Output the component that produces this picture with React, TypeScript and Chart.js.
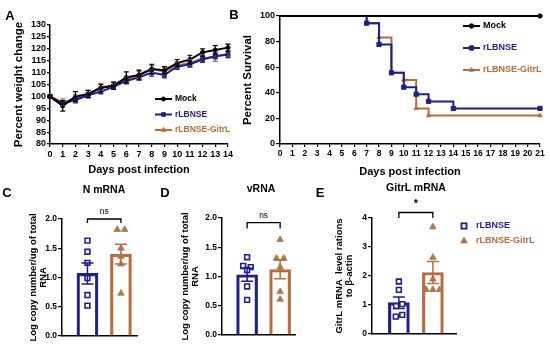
import React, { useEffect, useRef } from 'react';
import { Chart, registerables } from 'chart.js';

Chart.register(...registerables);

const W = 550;
const H = 358;
const FONT = "'Liberation Sans', Arial, Helvetica, sans-serif";
const BLACK = '#000000';
const NAVY = '#1f1f8a';
const BROWN = '#b86b3d';
const TRI_FILL = '#a67b4e';

// ---------- Panel A: weight change ----------
const seriesNames = ['Mock', 'rLBNSE', 'rLBNSE-GitrL'];
const weightDays = [0, 1, 2, 3, 4, 5, 6, 7, 8, 9, 10, 11, 12, 13, 14];
const mockWeight = [100, 96, 100, 101, 103.5, 104.5, 108, 109, 111.5, 111, 114, 115.5, 118.5, 119.5, 120.5];
const mockWeightSem = [0.5, 2.2, 2, 1.5, 1.5, 1.5, 2.3, 2, 2, 1.5, 1.5, 1.8, 1.5, 1.8, 1.5];
const rlbnseWeight = [100, 97, 98.5, 100.5, 102, 104, 106.5, 108, 110, 109, 112.5, 113.5, 115.5, 117, 117.5];
const rlbnseWeightSem = [0.5, 1.2, 1.2, 1, 1, 1, 1.2, 1.2, 1.5, 1.2, 1.2, 1.2, 1.2, 1.2, 1.2];
const gitrlWeight = [100, 97.5, 99, 101, 104, 104.5, 107, 109, 111.5, 110.5, 113, 114, 116, 116.5, 118];
const gitrlWeightSem = [0.5, 1.5, 1.5, 1.5, 1.5, 1.5, 1.5, 1.5, 1.5, 1.5, 1.5, 1.5, 1.5, 1.8, 1.5];

// ---------- Panel B: survival ----------
const mockSurvDays = [0, 21];
const mockSurv = [100, 100];
const rlbnseSurvDays = [0, 7, 8, 9, 10, 11, 12, 14, 21];
const rlbnseSurv = [100, 94.4, 77.8, 55.6, 44.4, 38.9, 33.3, 27.8, 27.8];
const gitrlSurvDays = [0, 7, 8, 9, 10, 11, 12, 21];
const gitrlSurv = [100, 94.4, 83.3, 55.6, 50, 27.8, 22.2, 22.2];

// ---------- Panels C, D, E ----------
const groupNames = ['rLBNSE', 'rLBNSE-GitrL'];

const nMean = [1.07, 1.4];
const nSem = [0.18, 0.17];
const nBlue = [1.63, 1.44, 1.25, 0.99, 0.7, 0.52];
const nBlueJitter = [0, 0, 0, 0, 0, 0];
const nOrange = [1.82, 1.82, 1.5, 1.36, 1.23, 0.73];
const nOrangeJitter = [-0.11, 0.11, 0, 0, 0, 0];

const vMean = [1.03, 1.12];
const vSem = [0.11, 0.16];
const vBlue = [1.33, 1.18, 1.16, 1.11, 0.83, 0.6];
const vBlueJitter = [0, -0.12, 0.11, 0, 0, 0];
const vOrange = [1.63, 1.31, 1.31, 1.16, 0.74, 0.61];
const vOrangeJitter = [0, -0.11, 0.11, 0, 0, 0];

const gMean = [1.08, 2.12];
const gSem = [0.2, 0.38];
const gBlue = [1.81, 1.52, 0.96, 1.03, 0.6, 0.66];
const gBlueJitter = [0, 0, -0.08, 0.1, -0.09, 0.1];
const gOrange = [3.69, 2.64, 1.89, 1.53, 1.53, 1.53];
const gOrangeJitter = [0, 0, 0, -0.2, 0, 0.2];

// ---------- helpers ----------
function drawMarker(ctx: CanvasRenderingContext2D, style: string, x: number, y: number, r: number, fill: string, stroke: string, lw: number) {
  ctx.beginPath();
  if (style === 'circle') {
    ctx.arc(x, y, r, 0, Math.PI * 2);
  } else if (style === 'rect') {
    const s = r * Math.SQRT1_2;
    ctx.rect(x - s, y - s, 2 * s, 2 * s);
  } else {
    const a = (2 * Math.PI) / 3;
    ctx.moveTo(x, y - r);
    ctx.lineTo(x + Math.sin(a) * r, y - Math.cos(a) * r);
    ctx.lineTo(x - Math.sin(a) * r, y - Math.cos(a) * r);
    ctx.closePath();
  }
  ctx.fillStyle = fill;
  ctx.fill();
  ctx.lineWidth = lw;
  ctx.strokeStyle = stroke;
  ctx.stroke();
}

type LegItem = { text: string; color: string; style: string; fill: string; radius: number; lw: number };
type LegLayout = { line: boolean; x0: number; x1: number; markerX: number; textX: number; ys: number[]; size: number };

function legendPlugin(id: string, items: LegItem[], lay: LegLayout) {
  return {
    id,
    afterDraw(chart: any) {
      const ctx = chart.ctx as CanvasRenderingContext2D;
      ctx.save();
      items.forEach((it, i) => {
        const y = lay.ys[i];
        if (lay.line) {
          ctx.beginPath();
          ctx.moveTo(lay.x0, y);
          ctx.lineTo(lay.x1, y);
          ctx.strokeStyle = it.color;
          ctx.lineWidth = 2;
          ctx.stroke();
        }
        drawMarker(ctx, it.style, lay.markerX, y, it.radius, it.fill, it.color, it.lw);
        ctx.fillStyle = it.color;
        ctx.font = `bold ${lay.size}px ${FONT}`;
        ctx.textBaseline = 'middle';
        ctx.textAlign = 'left';
        ctx.fillText(it.text, lay.textX, y);
      });
      ctx.restore();
    },
  };
}

const tickFont = (size: number) => ({ family: FONT, size, weight: 'bold' as const });

function ChartCanvas({ make }: { make: () => any }) {
  const ref = useRef<HTMLCanvasElement | null>(null);
  useEffect(() => {
    if (!ref.current) return;
    const chart = new Chart(ref.current, make());
    return () => chart.destroy();
  }, []);
  return (
    <canvas
      ref={ref}
      width={W}
      height={H}
      style={{ position: 'absolute', left: 0, top: 0, width: W, height: H }}
    />
  );
}

// ---------- Panel A config ----------
function makeWeight() {
  const sets = [
    { name: seriesNames[0], vals: mockWeight, sem: mockWeightSem, color: BLACK, style: 'circle', r: 2 },
    { name: seriesNames[1], vals: rlbnseWeight, sem: rlbnseWeightSem, color: NAVY, style: 'rect', r: 2.6 },
    { name: seriesNames[2], vals: gitrlWeight, sem: gitrlWeightSem, color: BROWN, style: 'triangle', r: 2.6 },
  ];
  const errPlugin = {
    id: 'weightErr',
    afterDatasetsDraw(chart: any) {
      const { ctx, scales } = chart;
      const x = scales.x, y = scales.y;
      ctx.save();
      for (let k = sets.length - 1; k >= 0; k--) {
        const s = sets[k];
        ctx.strokeStyle = s.color;
        ctx.lineWidth = 1.2;
        s.vals.forEach((v, i) => {
          const px = x.getPixelForValue(weightDays[i]);
          const t = y.getPixelForValue(v + s.sem[i]);
          const b = y.getPixelForValue(v - s.sem[i]);
          ctx.beginPath();
          ctx.moveTo(px, t); ctx.lineTo(px, b);
          ctx.moveTo(px - 2.5, t); ctx.lineTo(px + 2.5, t);
          ctx.moveTo(px - 2.5, b); ctx.lineTo(px + 2.5, b);
          ctx.stroke();
        });
      }
      ctx.restore();
    },
  };
  return {
    type: 'line',
    data: {
      datasets: sets.map((s) => ({
        label: s.name,
        data: s.vals.map((v, i) => ({ x: weightDays[i], y: v })),
        borderColor: s.color,
        backgroundColor: s.color,
        borderWidth: 2,
        pointStyle: s.style,
        pointRadius: s.r,
        pointBorderWidth: 1,
        clip: false,
      })),
    },
    options: {
      responsive: false,
      animation: false,
      events: [],
      layout: { padding: { left: 0, top: 25, right: W - 228, bottom: H - 180 } },
      plugins: { legend: { display: false }, tooltip: { enabled: false } },
      scales: {
        x: {
          type: 'linear', min: 0, max: 14, offset: false,
          afterFit: (s: any) => { s.height = 36; },
          ticks: { stepSize: 1, autoSkip: false, maxRotation: 0, font: tickFont(9), color: BLACK, padding: 2 },
          grid: { drawOnChartArea: false, drawTicks: true, tickLength: 3, color: BLACK, lineWidth: 1.2 },
          border: { color: BLACK, width: 1.5 },
          title: { display: true, text: 'Days post infection', color: BLACK, font: { family: FONT, size: 11, weight: 'bold' }, padding: { top: 0, bottom: 3.4 } },
        },
        y: {
          min: 80, max: 130,
          afterFit: (s: any) => { s.width = 50; },
          ticks: { stepSize: 5, autoSkip: false, font: tickFont(9), color: BLACK, padding: 1 },
          grid: { drawOnChartArea: false, drawTicks: true, tickLength: 3, color: BLACK, lineWidth: 1.2 },
          border: { color: BLACK, width: 1.5 },
          title: { display: true, text: 'Percent weight change', color: BLACK, font: { family: FONT, size: 11.5, weight: 'bold' }, padding: { top: 12, bottom: 0 } },
        },
      },
    },
    plugins: [
      errPlugin,
      legendPlugin('weightLegend', sets.map((s) => ({ text: s.name, color: s.color, style: s.style, fill: s.color, radius: s.r, lw: 1 })), {
        line: true, x0: 155, x1: 172, markerX: 163.5, textX: 175, ys: [99, 114.5, 130], size: 8.5,
      }),
    ],
  };
}

// ---------- Panel B config ----------
function makeSurvival() {
  const sets = [
    { name: seriesNames[0], days: mockSurvDays, vals: mockSurv, color: BLACK, style: 'circle', r: 2.2 },
    { name: seriesNames[1], days: rlbnseSurvDays, vals: rlbnseSurv, color: NAVY, style: 'rect', r: 3 },
    { name: seriesNames[2], days: gitrlSurvDays, vals: gitrlSurv, color: BROWN, style: 'triangle', r: 2.4 },
  ];
  return {
    type: 'line',
    data: {
      datasets: sets.map((s) => ({
        label: s.name,
        data: s.vals.map((v, i) => ({ x: s.days[i], y: v })),
        stepped: true,
        borderColor: s.color,
        backgroundColor: s.color,
        borderWidth: 2,
        pointStyle: s.style,
        pointRadius: s.vals.map((_, i) => (i === 0 ? 0 : s.r)),
        pointBorderWidth: 1,
        clip: false,
      })),
    },
    options: {
      responsive: false,
      animation: false,
      events: [],
      layout: { padding: { left: 235, top: 16, right: W - 540, bottom: H - 182 } },
      plugins: { legend: { display: false }, tooltip: { enabled: false } },
      scales: {
        x: {
          type: 'linear', min: 0, max: 21, offset: false,
          afterFit: (s: any) => { s.height = 38; },
          ticks: { stepSize: 1, autoSkip: false, maxRotation: 0, font: tickFont(8.5), color: BLACK, padding: 2 },
          grid: { drawOnChartArea: false, drawTicks: true, tickLength: 3, color: BLACK, lineWidth: 1.2 },
          border: { color: BLACK, width: 1.5 },
          title: { display: true, text: 'Days post infection', color: BLACK, font: { family: FONT, size: 11, weight: 'bold' }, padding: { top: 0, bottom: 3.4 } },
        },
        y: {
          min: 0, max: 100,
          afterFit: (s: any) => { s.width = 45; },
          ticks: { stepSize: 20, autoSkip: false, font: tickFont(9), color: BLACK, padding: 1 },
          grid: { drawOnChartArea: false, drawTicks: true, tickLength: 4, color: BLACK, lineWidth: 1.2 },
          border: { color: BLACK, width: 1.5 },
          title: { display: true, text: 'Percent Survival', color: BLACK, font: { family: FONT, size: 11.5, weight: 'bold' }, padding: { top: 6, bottom: 0 } },
        },
      },
    },
    plugins: [
      legendPlugin('survLegend', sets.map((s) => ({ text: s.name, color: s.color, style: s.style, fill: s.color, radius: s.r, lw: 1 })), {
        line: true, x0: 463, x1: 480, markerX: 471.5, textX: 483, ys: [26, 48, 70], size: 9,
      }),
    ],
  };
}

// ---------- Panels C/D/E config ----------
type BarSpec = {
  left: number; axisWidth: number; top: number; right: number; bottom: number;
  yMax: number; yStep: number; decimals: number;
  yTitle: string[]; yTitlePad: number; xMin: number; xMax: number;
  means: number[]; sems: number[];
  blue: number[]; blueJitter: number[]; orange: number[]; orangeJitter: number[];
  bracketY: number; bracketLeg: number; bracketText: string; bracketFont: string;
  legend: boolean;
};

function makeBar(s: BarSpec) {
  const colors = [NAVY, BROWN];
  const extras = {
    id: 'barExtras',
    afterDatasetsDraw(chart: any) {
      const { ctx, scales } = chart;
      const x = scales.x, y = scales.y;
      ctx.save();
      s.means.forEach((m, i) => {
        const cx = x.getPixelForValue(i);
        const t = y.getPixelForValue(m + s.sems[i]);
        const b = y.getPixelForValue(m - s.sems[i]);
        ctx.strokeStyle = colors[i];
        ctx.lineWidth = 1.5;
        ctx.beginPath();
        ctx.moveTo(cx, t); ctx.lineTo(cx, b);
        ctx.moveTo(cx - 6, t); ctx.lineTo(cx + 6, t);
        ctx.moveTo(cx - 6, b); ctx.lineTo(cx + 6, b);
        ctx.stroke();
      });
      // significance bracket
      const x0 = x.getPixelForValue(0);
      const x1 = x.getPixelForValue(1);
      const by = y.getPixelForValue(s.bracketY);
      const bl = y.getPixelForValue(s.bracketY - s.bracketLeg);
      ctx.strokeStyle = BLACK;
      ctx.lineWidth = 1.3;
      ctx.beginPath();
      ctx.moveTo(x0, bl); ctx.lineTo(x0, by); ctx.lineTo(x1, by); ctx.lineTo(x1, bl);
      ctx.stroke();
      ctx.fillStyle = BLACK;
      ctx.font = s.bracketFont;
      ctx.textAlign = 'center';
      ctx.textBaseline = 'bottom';
      ctx.fillText(s.bracketText, (x0 + x1) / 2, by - 3);
      ctx.restore();
    },
  };
  const plugins: any[] = [extras];
  if (s.legend) {
    plugins.push(
      legendPlugin('barLegend', [
        { text: groupNames[0], color: NAVY, style: 'rect', fill: '#ffffff', radius: 3.6, lw: 1.8 },
        { text: groupNames[1], color: BROWN, style: 'triangle', fill: TRI_FILL, radius: 3.8, lw: 0.8 },
      ], { line: false, x0: 0, x1: 0, markerX: 464, textX: 476, ys: [226, 241], size: 9 })
    );
  }
  return {
    type: 'bar',
    data: {
      datasets: [
        {
          type: 'scatter', label: groupNames[0],
          data: s.blue.map((v, i) => ({ x: s.blueJitter[i], y: v })),
          pointStyle: 'rect', pointRadius: 3.4, borderColor: NAVY, backgroundColor: '#ffffff', borderWidth: 1.6, order: 1, clip: false,
        },
        {
          type: 'scatter', label: groupNames[1],
          data: s.orange.map((v, i) => ({ x: 1 + s.orangeJitter[i], y: v })),
          pointStyle: 'triangle', pointRadius: 3.8, borderColor: TRI_FILL, backgroundColor: TRI_FILL, borderWidth: 0.8, order: 1, clip: false,
        },
        {
          type: 'bar', label: 'mean',
          data: s.means.map((m, i) => ({ x: i, y: m })),
          borderColor: colors, backgroundColor: 'rgba(255,255,255,0)', borderWidth: 2.5, barThickness: 21, order: 2,
        },
      ],
    },
    options: {
      responsive: false,
      animation: false,
      events: [],
      layout: { padding: { left: s.left, top: s.top, right: W - s.right, bottom: 0 } },
      plugins: { legend: { display: false }, tooltip: { enabled: false } },
      scales: {
        x: {
          type: 'linear', min: s.xMin, max: s.xMax, offset: false,
          afterFit: (sc: any) => { sc.height = H - s.bottom; },
          ticks: { display: false },
          grid: { display: false, drawTicks: false },
          border: { display: true, color: BLACK, width: 1.5 },
        },
        y: {
          min: 0, max: s.yMax,
          afterFit: (sc: any) => { sc.width = s.axisWidth; },
          ticks: { stepSize: s.yStep, autoSkip: false, font: tickFont(8.5), color: BLACK, padding: 1, callback: (v: any) => Number(v).toFixed(s.decimals) },
          grid: { drawOnChartArea: false, drawTicks: true, tickLength: 4, color: BLACK, lineWidth: 1.2 },
          border: { color: BLACK, width: 1.5 },
          title: { display: true, text: s.yTitle, color: BLACK, font: { family: FONT, size: 9.5, weight: 'bold', lineHeight: 1.1 }, padding: { top: s.yTitlePad, bottom: 0 } },
        },
      },
    },
    plugins,
  };
}

const specC: BarSpec = {
  left: 0, axisWidth: 62, top: 219, right: 137, bottom: 336,
  yMax: 2, yStep: 0.5, decimals: 1,
  yTitle: ['Log copy number/ug of total', 'RNA'], yTitlePad: 27.8, xMin: -0.76, xMax: 1.48,
  means: nMean, sems: nSem, blue: nBlue, blueJitter: nBlueJitter, orange: nOrange, orangeJitter: nOrangeJitter,
  bracketY: 2.0, bracketLeg: 0.07, bracketText: 'ns', bracketFont: `8.5px ${FONT}`, legend: false,
};
const specD: BarSpec = {
  left: 160, axisWidth: 62, top: 218, right: 295, bottom: 335,
  yMax: 2, yStep: 0.5, decimals: 1,
  yTitle: ['Log copy number/ug of total', 'RNA'], yTitlePad: 19.8, xMin: -0.76, xMax: 1.45,
  means: vMean, sems: vSem, blue: vBlue, blueJitter: vBlueJitter, orange: vOrange, orangeJitter: vOrangeJitter,
  bracketY: 1.92, bracketLeg: 0.1, bracketText: 'ns', bracketFont: `8.5px ${FONT}`, legend: false,
};
const specE: BarSpec = {
  left: 320, axisWidth: 52, top: 218, right: 456, bottom: 334,
  yMax: 4, yStep: 1, decimals: 0,
  yTitle: ['GitrL mRNA  level rations', 'to \u03B2-actin'], yTitlePad: 13.8, xMin: -0.79, xMax: 1.68,
  means: gMean, sems: gSem, blue: gBlue, blueJitter: gBlueJitter, orange: gOrange, orangeJitter: gOrangeJitter,
  bracketY: 4.19, bracketLeg: 0.19, bracketText: '*', bracketFont: `bold 11px ${FONT}`, legend: true,
};

const panelLetters = [
  { t: 'A', x: 10, y: 15 },
  { t: 'B', x: 234, y: 14 },
  { t: 'C', x: 7, y: 192 },
  { t: 'D', x: 165, y: 192 },
  { t: 'E', x: 320, y: 192 },
];
const panelTitles = [
  { t: 'N mRNA', x: 104, y: 189 },
  { t: 'vRNA', x: 261, y: 188 },
  { t: 'GitrL mRNA', x: 416, y: 187 },
];

function Label({ t, x, y, size }: { t: string; x: number; y: number; size: number }) {
  return (
    <div
      style={{
        position: 'absolute', left: x, top: y, transform: 'translate(-50%, -50%)',
        fontFamily: FONT, fontWeight: 'bold', fontSize: size, color: BLACK, whiteSpace: 'nowrap', lineHeight: 1,
      }}
    >
      {t}
    </div>
  );
}

export default function App() {
  return (
    <div style={{ position: 'absolute', left: 0, top: 0, width: W, height: H, background: '#ffffff', overflow: 'hidden' }}>
      <ChartCanvas make={makeWeight} />
      <ChartCanvas make={makeSurvival} />
      <ChartCanvas make={() => makeBar(specC)} />
      <ChartCanvas make={() => makeBar(specD)} />
      <ChartCanvas make={() => makeBar(specE)} />
      {panelLetters.map((p) => (
        <Label key={p.t} t={p.t} x={p.x} y={p.y} size={13} />
      ))}
      {panelTitles.map((p) => (
        <Label key={p.t} t={p.t} x={p.x} y={p.y} size={10.5} />
      ))}
    </div>
  );
}
